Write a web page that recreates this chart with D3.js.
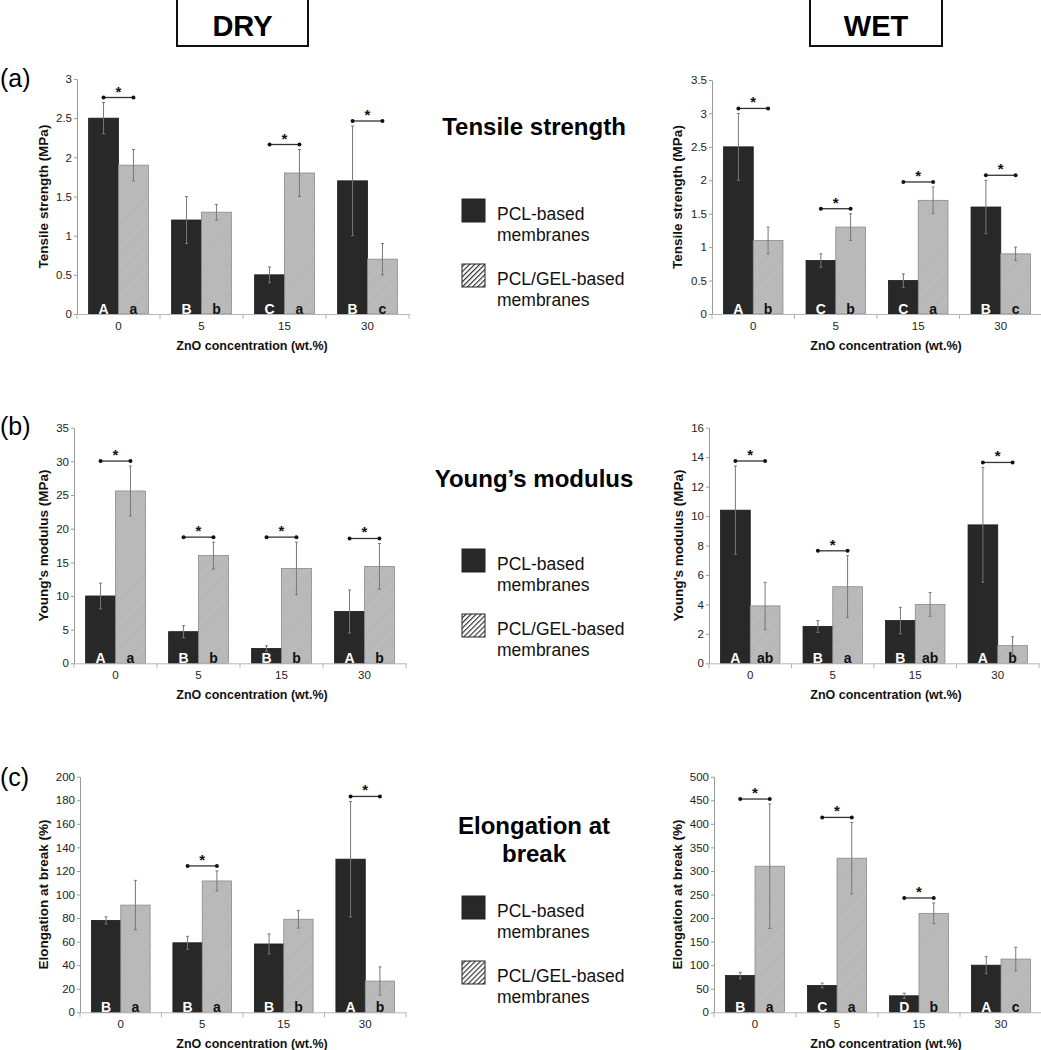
<!DOCTYPE html>
<html><head><meta charset="utf-8">
<script src="https://cdn.jsdelivr.net/npm/d3@7"></script>
<style>
html,body{margin:0;padding:0;background:#fff;}
svg{display:block;font-family:"Liberation Sans",Arial,sans-serif;}
</style></head>
<body>
<svg id="chart" width="1041" height="1050"></svg>
<script>
// ---------- DATA ----------
const categories = ["0", "5", "15", "30"];
const seriesNames = ["PCL-based membranes", "PCL/GEL-based membranes"];

// (a) Tensile strength (MPa)
const tsTicksDry = [0, 0.5, 1, 1.5, 2, 2.5, 3];
const tsDryPCL = [2.5, 1.2, 0.5, 1.7];
const tsDryPCLErr = [0.2, 0.3, 0.1, 0.7];
const tsDryGEL = [1.9, 1.3, 1.8, 0.7];
const tsDryGELErr = [0.2, 0.1, 0.3, 0.2];
const tsDryPCLLetters = ["A", "B", "C", "B"];
const tsDryGELLetters = ["a", "b", "a", "c"];
const tsDrySig = [true, false, true, true];

const tsTicksWet = [0, 0.5, 1, 1.5, 2, 2.5, 3, 3.5];
const tsWetPCL = [2.5, 0.8, 0.5, 1.6];
const tsWetPCLErr = [0.5, 0.1, 0.1, 0.4];
const tsWetGEL = [1.1, 1.3, 1.7, 0.9];
const tsWetGELErr = [0.2, 0.2, 0.2, 0.1];
const tsWetPCLLetters = ["A", "C", "C", "B"];
const tsWetGELLetters = ["b", "b", "a", "c"];
const tsWetSig = [true, true, true, true];

// (b) Young's modulus (MPa)
const ymTicksDry = [0, 5, 10, 15, 20, 25, 30, 35];
const ymDryPCL = [10.0, 4.7, 2.2, 7.7];
const ymDryPCLErr = [1.9, 0.9, 0.4, 3.2];
const ymDryGEL = [25.6, 16.0, 14.1, 14.4];
const ymDryGELErr = [3.7, 2.0, 3.9, 3.4];
const ymDryPCLLetters = ["A", "B", "B", "A"];
const ymDryGELLetters = ["a", "b", "b", "b"];
const ymDrySig = [true, true, true, true];

const ymTicksWet = [0, 2, 4, 6, 8, 10, 12, 14, 16];
const ymWetPCL = [10.4, 2.5, 2.9, 9.4];
const ymWetPCLErr = [3.0, 0.4, 0.9, 3.9];
const ymWetGEL = [3.9, 5.2, 4.0, 1.2];
const ymWetGELErr = [1.6, 2.1, 0.8, 0.6];
const ymWetPCLLetters = ["A", "B", "B", "A"];
const ymWetGELLetters = ["ab", "a", "ab", "b"];
const ymWetSig = [true, true, false, true];

// (c) Elongation at break (%)
const ebTicksDry = [0, 20, 40, 60, 80, 100, 120, 140, 160, 180, 200];
const ebDryPCL = [78, 59, 58, 130];
const ebDryPCLErr = [3, 5.5, 8.5, 49];
const ebDryGEL = [91, 111.5, 79, 26.5];
const ebDryGELErr = [21, 8.5, 7.5, 12];
const ebDryPCLLetters = ["B", "B", "B", "A"];
const ebDryGELLetters = ["a", "a", "b", "b"];
const ebDrySig = [false, true, false, true];

const ebTicksWet = [0, 50, 100, 150, 200, 250, 300, 350, 400, 450, 500];
const ebWetPCL = [78, 57, 35, 100];
const ebWetPCLErr = [7, 5, 5.5, 18];
const ebWetGEL = [310, 327, 210, 113];
const ebWetGELErr = [132, 76, 22, 25];
const ebWetPCLLetters = ["B", "C", "D", "A"];
const ebWetGELLetters = ["a", "a", "b", "c"];
const ebWetSig = [true, true, true, false];

// ---------- LAYOUT ----------
const FONT = '"Liberation Sans", Arial, sans-serif';
const svg = d3.select("#chart");
const defs = svg.append("defs");

// fine, low-contrast hatch for the PCL/GEL bars
const barPat = defs.append("pattern").attr("id", "barHatch")
  .attr("width", 2).attr("height", 2).attr("patternUnits", "userSpaceOnUse")
  .attr("patternTransform", "rotate(45)");
barPat.append("rect").attr("width", 2).attr("height", 2).attr("fill", "#c6c6c6");
barPat.append("rect").attr("x", 0).attr("y", 0).attr("width", 0.9).attr("height", 2).attr("fill", "#a9a9a9");

const legPat = defs.append("pattern").attr("id", "legHatch")
  .attr("width", 3.6).attr("height", 3.6).attr("patternUnits", "userSpaceOnUse")
  .attr("patternTransform", "rotate(45)");
legPat.append("rect").attr("width", 3.6).attr("height", 3.6).attr("fill", "#ffffff");
legPat.append("line").attr("x1", 0.6).attr("y1", 0).attr("x2", 0.6).attr("y2", 3.6)
  .attr("stroke", "#222").attr("stroke-width", 1.1);

const panels = [
  {x0: 77, x1: 409, yb: 314, yt: 79, ticks: tsTicksDry, title: "Tensile strength (MPa)", ytx: 43, xtx: 252,
   pcl: tsDryPCL, pclE: tsDryPCLErr, gel: tsDryGEL, gelE: tsDryGELErr, pl: tsDryPCLLetters, gl: tsDryGELLetters, sig: tsDrySig},
  {x0: 712, x1: 1042, yb: 314, yt: 80, ticks: tsTicksWet, title: "Tensile strength (MPa)", ytx: 677, xtx: 886,
   pcl: tsWetPCL, pclE: tsWetPCLErr, gel: tsWetGEL, gelE: tsWetGELErr, pl: tsWetPCLLetters, gl: tsWetGELLetters, sig: tsWetSig},
  {x0: 74, x1: 406, yb: 663.3, yt: 427.7, ticks: ymTicksDry, title: "Young's modulus (MPa)", ytx: 43, xtx: 252,
   pcl: ymDryPCL, pclE: ymDryPCLErr, gel: ymDryGEL, gelE: ymDryGELErr, pl: ymDryPCLLetters, gl: ymDryGELLetters, sig: ymDrySig},
  {x0: 709, x1: 1039, yb: 663.3, yt: 427.7, ticks: ymTicksWet, title: "Young's modulus (MPa)", ytx: 678, xtx: 886,
   pcl: ymWetPCL, pclE: ymWetPCLErr, gel: ymWetGEL, gelE: ymWetGELErr, pl: ymWetPCLLetters, gl: ymWetGELLetters, sig: ymWetSig},
  {x0: 80, x1: 406, yb: 1012.3, yt: 776.7, ticks: ebTicksDry, title: "Elongation at break (%)", ytx: 43, xtx: 252,
   pcl: ebDryPCL, pclE: ebDryPCLErr, gel: ebDryGEL, gelE: ebDryGELErr, pl: ebDryPCLLetters, gl: ebDryGELLetters, sig: ebDrySig},
  {x0: 714, x1: 1042, yb: 1012.3, yt: 776.7, ticks: ebTicksWet, title: "Elongation at break (%)", ytx: 677, xtx: 886,
   pcl: ebWetPCL, pclE: ebWetPCLErr, gel: ebWetGEL, gelE: ebWetGELErr, pl: ebWetPCLLetters, gl: ebWetGELLetters, sig: ebWetSig}
];

const fmt = d3.format("~g");

panels.forEach(p => {
  const g = svg.append("g");
  const x = d3.scaleBand().domain(categories).range([p.x0, p.x1]).paddingInner(0).paddingOuter(0);
  const groupW = x.bandwidth() * 0.72;
  const xs = d3.scaleBand().domain([0, 1]).range([0, groupW]);
  const y = d3.scaleLinear().domain([0, d3.max(p.ticks)]).range([p.yb, p.yt]);
  const gx = c => x(c) + (x.bandwidth() - groupW) / 2;

  // y axis
  const ya = g.append("g").attr("transform", `translate(${p.x0},0)`)
    .call(d3.axisLeft(y).tickValues(p.ticks).tickFormat(fmt).tickSizeInner(3).tickSizeOuter(0).tickPadding(2));
  ya.select(".domain").attr("stroke", "#9a9a9a");
  ya.selectAll(".tick line").attr("stroke", "#9a9a9a");
  ya.selectAll("text").attr("font-family", FONT).attr("font-size", 11.5).attr("fill", "#222");

  // bars
  const rows = categories.map((c, i) => ({c, i, vals: [
    {s: 0, v: p.pcl[i], e: p.pclE[i], l: p.pl[i]},
    {s: 1, v: p.gel[i], e: p.gelE[i], l: p.gl[i]}]}));

  const grp = g.selectAll(".grp").data(rows).join("g")
    .attr("transform", d => `translate(${gx(d.c)},0)`);
  grp.selectAll("rect").data(d => d.vals).join("rect")
    .attr("x", d => xs(d.s)).attr("width", xs.bandwidth())
    .attr("y", d => y(d.v)).attr("height", d => y(0) - y(d.v))
    .attr("fill", d => d.s === 0 ? "#282828" : "url(#barHatch)")
    .attr("stroke", d => d.s === 0 ? "#1a1a1a" : "#8a8a8a")
    .attr("stroke-width", 0.8);

  // x axis
  const xa = g.append("g").attr("transform", `translate(0,${p.yb})`)
    .call(d3.axisBottom(x).tickSize(0).tickPadding(8));
  xa.select(".domain").attr("stroke", "#b5b5b5");
  xa.selectAll("text").attr("font-family", FONT).attr("font-size", 11.5).attr("fill", "#222");
  const bounds = categories.map(c => x(c)).concat([p.x1]);
  g.selectAll(".bt").data(bounds).join("line")
    .attr("x1", d => d).attr("x2", d => d).attr("y1", p.yb).attr("y2", p.yb + 5)
    .attr("stroke", "#b5b5b5");

  // error bars
  const eb = grp.selectAll(".eb").data(d => d.vals).join("g");
  const cxOf = d => xs(d.s) + xs.bandwidth() / 2;
  eb.append("line")
    .attr("x1", cxOf).attr("x2", cxOf)
    .attr("y1", d => y(d.v + d.e)).attr("y2", d => y(Math.max(0, d.v - d.e)))
    .attr("stroke", "#777").attr("stroke-width", 1);
  eb.append("line")
    .attr("x1", d => cxOf(d) - 1.5).attr("x2", d => cxOf(d) + 1.5)
    .attr("y1", d => y(d.v + d.e)).attr("y2", d => y(d.v + d.e))
    .attr("stroke", "#777").attr("stroke-width", 1);
  eb.append("line")
    .attr("x1", d => cxOf(d) - 1.5).attr("x2", d => cxOf(d) + 1.5)
    .attr("y1", d => y(Math.max(0, d.v - d.e))).attr("y2", d => y(Math.max(0, d.v - d.e)))
    .attr("stroke", "#777").attr("stroke-width", 1);

  // letters
  grp.selectAll(".let").data(d => d.vals).join("text")
    .attr("x", cxOf).attr("y", p.yb - 0.5)
    .attr("text-anchor", "middle").attr("font-family", FONT).attr("font-weight", "bold")
    .attr("font-size", 14).attr("fill", d => d.s === 0 ? "#fff" : "#111")
    .text(d => d.l);

  // significance brackets
  const sg = grp.filter(d => p.sig[d.i]);
  sg.each(function (d) {
    const top = Math.min(y(d.vals[0].v + d.vals[0].e), y(d.vals[1].v + d.vals[1].e));
    const ly = top - 5;
    const cx0 = xs(0) + xs.bandwidth() / 2, cx1 = xs(1) + xs.bandwidth() / 2;
    const s = d3.select(this);
    s.append("line").attr("x1", cx0).attr("x2", cx1).attr("y1", ly).attr("y2", ly)
      .attr("stroke", "#333").attr("stroke-width", 1.3);
    [cx0, cx1].forEach(cx => s.append("circle").attr("cx", cx).attr("cy", ly).attr("r", 2).attr("fill", "#111"));
    s.append("text").attr("x", (cx0 + cx1) / 2).attr("y", ly - 1)
      .attr("text-anchor", "middle").attr("font-family", FONT).attr("font-weight", "bold")
      .attr("font-size", 15).attr("fill", "#111").text("*");
  });

  // axis titles
  g.append("text").attr("transform", `translate(${p.ytx},${(p.yb + p.yt) / 2}) rotate(-90)`)
    .attr("text-anchor", "middle").attr("dominant-baseline", "central")
    .attr("font-family", FONT).attr("font-weight", "bold").attr("font-size", 13.5).attr("fill", "#111")
    .text(p.title);
  g.append("text").attr("x", p.xtx).attr("y", p.yb + 36)
    .attr("text-anchor", "middle").attr("font-family", FONT).attr("font-weight", "bold")
    .attr("font-size", 12.5).attr("fill", "#111").text("ZnO concentration (wt.%)");
});

// Column headers
[{t: "DRY", x: 177, w: 131}, {t: "WET", x: 810, w: 132}].forEach(h => {
  svg.append("rect").attr("x", h.x).attr("y", -1).attr("width", h.w).attr("height", 47)
    .attr("fill", "#fff").attr("stroke", "#111").attr("stroke-width", 2);
  svg.append("text").attr("x", h.x + h.w / 2).attr("y", 36)
    .attr("text-anchor", "middle").attr("font-family", FONT).attr("font-weight", "bold")
    .attr("font-size", 29).attr("fill", "#000").text(h.t);
});

// Panel letters
[{t: "(a)", y: 78}, {t: "(b)", y: 426}, {t: "(c)", y: 777}].forEach(l => {
  svg.append("text").attr("x", 0).attr("y", l.y).attr("dominant-baseline", "central")
    .attr("font-family", FONT).attr("font-size", 25).attr("fill", "#000").text(l.t);
});

// Centre legends
const legends = [
  {title: ["Tensile strength"], ty: 135, sw: 199},
  {title: ["Young\u2019s modulus"], ty: 487, sw: 549},
  {title: ["Elongation at", "break"], ty: 834, sw: 896}
];
legends.forEach(L => {
  const g = svg.append("g");
  L.title.forEach((t, i) => g.append("text").attr("x", 534).attr("y", L.ty + i * 28)
    .attr("text-anchor", "middle").attr("font-family", FONT).attr("font-weight", "bold")
    .attr("font-size", 24).attr("fill", "#000").text(t));
  seriesNames.forEach((name, i) => {
    const top = L.sw + i * 65;
    g.append("rect").attr("x", 462).attr("y", top).attr("width", 23).attr("height", 23)
      .attr("fill", i === 0 ? "#282828" : "url(#legHatch)").attr("stroke", "#222").attr("stroke-width", 1);
    const parts = name.split(" ");
    parts.forEach((pt, j) => g.append("text").attr("x", 497).attr("y", top + 21 + j * 21)
      .attr("font-family", FONT).attr("font-size", 17.5).attr("fill", "#111").text(pt));
  });
});
</script>
</body></html>
